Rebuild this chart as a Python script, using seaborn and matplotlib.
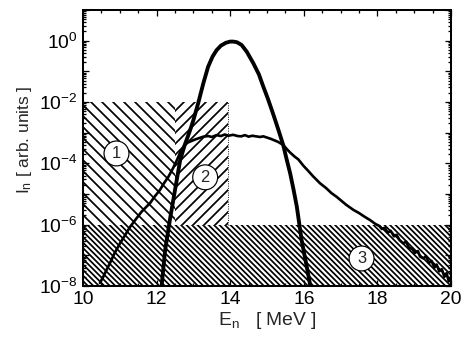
import numpy as np
import pandas as pd
import matplotlib
matplotlib.use("Agg")
import matplotlib.pyplot as plt
import matplotlib.ticker as mticker
import seaborn as sns

# ---- data -------------------------------------------------------------
# broad spectrum (curve "1"): energy [MeV] and log10 intensity
broad_E = [10.46, 10.55, 10.65, 10.73, 10.85, 11.00, 11.15, 11.28, 11.45, 11.59,
           11.72, 11.82, 11.95, 12.09, 12.20, 12.32, 12.45, 12.55, 12.65, 12.75,
           12.85, 12.95, 13.05, 13.15, 13.27, 13.40, 13.50, 13.63, 13.75, 13.85,
           13.95, 14.08, 14.20, 14.30, 14.40, 14.50, 14.60, 14.70, 14.81, 14.90,
           15.00, 15.10, 15.20, 15.30, 15.44, 15.55, 15.63, 15.75, 15.85, 15.99,
           16.10, 16.25, 16.44, 16.60, 16.75, 16.89, 17.00, 17.15, 17.35, 17.50,
           17.65, 17.80, 17.95, 18.05, 18.12, 18.20, 18.28, 18.36, 18.45, 18.52,
           18.60, 18.70, 18.78, 18.85, 18.95, 19.02, 19.10, 19.16, 19.25, 19.32,
           19.40, 19.47, 19.55, 19.61, 19.68, 19.75, 19.82, 19.88, 19.94, 19.99]
broad_logI = [-7.90, -7.70, -7.45, -7.26, -6.95, -6.62, -6.33, -6.07, -5.80, -5.58,
              -5.42, -5.30, -5.08, -4.87, -4.65, -4.44, -4.15, -3.90, -3.62, -3.42,
              -3.32, -3.27, -3.22, -3.18, -3.13, -3.11, -3.14, -3.08, -3.11, -3.06,
              -3.10, -3.07, -3.11, -3.12, -3.08, -3.13, -3.10, -3.12, -3.14, -3.12,
              -3.16, -3.20, -3.25, -3.30, -3.40, -3.55, -3.65, -3.78, -3.87, -4.08,
              -4.22, -4.42, -4.65, -4.80, -4.97, -5.09, -5.20, -5.35, -5.52, -5.62,
              -5.74, -5.85, -5.98, -6.04, -6.14, -6.10, -6.26, -6.20, -6.38, -6.33,
              -6.50, -6.61, -6.55, -6.74, -6.80, -6.92, -6.86, -7.04, -7.10, -7.02,
              -7.25, -7.18, -7.40, -7.30, -7.52, -7.45, -7.70, -7.58, -7.85, -7.72]

# narrow spectrum (curve "2")
narrow_E = [12.14, 12.23, 12.36, 12.50, 12.64, 12.77, 12.85, 12.93, 13.00, 13.13,
            13.27, 13.40, 13.52, 13.63, 13.75, 13.88, 14.00, 14.08, 14.18, 14.31,
            14.45, 14.63, 14.78, 14.90, 15.02, 15.13, 15.22, 15.31, 15.44, 15.53,
            15.63, 15.72, 15.81, 15.94, 16.08, 16.17]
narrow_logI = [-7.95, -6.85, -5.85, -4.87, -3.90, -3.38, -3.12, -2.85, -2.59, -2.04,
               -1.39, -0.85, -0.52, -0.31, -0.16, -0.07, -0.03, -0.03, -0.05, -0.14,
               -0.36, -0.74, -1.10, -1.50, -1.88, -2.26, -2.58, -2.91, -3.40, -3.85,
               -4.33, -4.85, -5.41, -6.50, -7.37, -7.95]

# hatched regions: (x0, x1, y0, y1, hatch)
region_x0 = [10.0, 12.5, 10.0]
region_x1 = [12.5, 13.94, 20.0]
region_y0 = [1e-6, 1e-6, 1e-8]
region_y1 = [1e-2, 1e-2, 1e-6]
region_hatch = ["\\\\", "//", "\\\\\\\\"]

# circled region labels
label_text = ["1", "2", "3"]
label_E = [10.91, 13.32, 17.57]
label_I = [2.1e-4, 3.5e-5, 7.9e-8]

# ---- style ------------------------------------------------------------
DPI = 66
sns.set_style("ticks")
plt.rcParams["font.family"] = ["Liberation Sans", "DejaVu Sans"]
plt.rcParams["mathtext.fontset"] = "custom"
plt.rcParams["mathtext.rm"] = "Liberation Sans"
plt.rcParams["mathtext.it"] = "Liberation Sans:italic"
plt.rcParams["hatch.linewidth"] = 1.9
plt.rcParams["hatch.color"] = "black"

fig = plt.figure(figsize=(463 / DPI, 341 / DPI), dpi=DPI)
ax = fig.add_axes([83 / 463, 1 - 286 / 341, (451 - 83) / 463, (286 - 10) / 341])

# hatched regions
for x0, x1, y0, y1, h in zip(region_x0, region_x1, region_y0, region_y1, region_hatch):
    ax.fill_between([x0, x1], [y0, y0], [y1, y1], facecolor="none",
                    edgecolor="black", linewidth=0, hatch=h, zorder=1)
# dotted outline on the right edge of region 2
ax.plot([region_x1[1], region_x1[1]], [region_y0[1], region_y1[1]],
        color="black", lw=1.0, ls=(0, (1, 1.5)), zorder=1)

df_broad = pd.DataFrame({"E": broad_E, "I": 10.0 ** np.array(broad_logI)})
df_narrow = pd.DataFrame({"E": narrow_E, "I": 10.0 ** np.array(narrow_logI)})
sns.lineplot(data=df_broad, x="E", y="I", ax=ax, color="black", lw=2.9,
             sort=False, estimator=None, zorder=3)
sns.lineplot(data=df_narrow, x="E", y="I", ax=ax, color="black", lw=4.2,
             sort=False, estimator=None, zorder=3)

for t, xe, yi in zip(label_text, label_E, label_I):
    ax.text(xe, yi, t, fontsize=18, ha="center", va="center", zorder=5,
            bbox=dict(boxstyle="circle,pad=0.3", fc="white", ec="black", lw=1.3))

ax.set_yscale("log")
ax.set_xlim(10, 20)
ax.set_ylim(1e-8, 1e1)

ax.xaxis.set_major_locator(mticker.MultipleLocator(2))
ax.xaxis.set_minor_locator(mticker.MultipleLocator(0.5))
ax.yaxis.set_major_locator(mticker.LogLocator(base=10, numticks=20))
ax.yaxis.set_minor_locator(mticker.LogLocator(base=10, subs=np.arange(2, 10), numticks=20))
ax.yaxis.set_minor_formatter(mticker.NullFormatter())


def ylab(v, pos):
    e = int(round(np.log10(v)))
    return r"$\mathregular{10^{%d}}$" % e if e % 2 == 0 and e <= 0 else ""


ax.yaxis.set_major_formatter(mticker.FuncFormatter(ylab))
ax.xaxis.set_major_formatter(mticker.FormatStrFormatter("%d"))

ax.tick_params(which="both", direction="in", top=True, right=True,
               colors="black", width=1.4, labelsize=21)
ax.tick_params(which="major", length=7, pad=6)
ax.tick_params(which="minor", length=3.5)
for s in ax.spines.values():
    s.set_linewidth(2.2)
    s.set_color("black")

ax.set_xlabel(r"$\mathregular{E_n}$   [ MeV ]", fontsize=21, labelpad=2)
ax.set_ylabel(r"$\mathregular{I_n}$ [ arb. units ]", fontsize=19, labelpad=5)
ax.yaxis.label.set_y(0.53)

fig.savefig("out.png", dpi=DPI, facecolor="white")
